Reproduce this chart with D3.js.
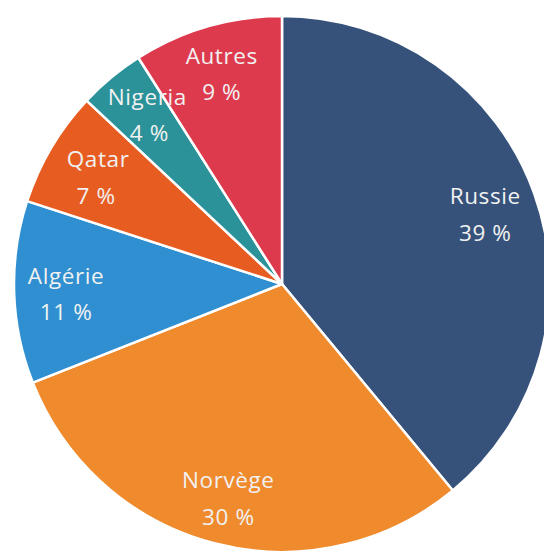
<!DOCTYPE html>
<html><head><meta charset="utf-8">
<script src="https://cdn.jsdelivr.net/npm/d3@7"></script>
<style>html,body{margin:0;padding:0;background:#fff;}svg{display:block;}</style>
</head><body>
<svg id="chart" width="544" height="551"></svg>
<script>
const countries = ["Russie", "Norvège", "Algérie", "Qatar", "Nigeria", "Autres"];
const shares = [39, 30, 11, 7, 4, 9];
const colors = ["#37527a", "#ef8a2d", "#2f8fd0", "#e75d21", "#2b9299", "#de3a4e"];
const pctLabels = ["39 %", "30 %", "11 %", "7 %", "4 %", "9 %"];

// small label nudges (layout only): [dx name, dx pct, dy]
const nudges = {"Nigeria": [3, 5, -6], "Autres": [0, 0, -6], "Norvège": [0, 0, 2], "Qatar": [2, 0, 0]};

const svg = d3.select("#chart");
const cx = 282, cy = 284, R = 268, labelR = 216;
const g = svg.append("g").attr("transform", `translate(${cx},${cy})`);

const pie = d3.pie().sort(null).value(d => d.v);
const data = countries.map((c, i) => ({c, v: shares[i], col: colors[i], p: pctLabels[i]}));
const arcs = pie(data);
const arc = d3.arc().innerRadius(0).outerRadius(R);
const labelArc = d3.arc().innerRadius(labelR).outerRadius(labelR);

g.selectAll("path").data(arcs).join("path")
  .attr("d", arc)
  .attr("fill", d => d.data.col)
  .attr("stroke", "#fff")
  .attr("stroke-width", 2.5)
  .attr("stroke-linejoin", "round");

const nud = d => nudges[d.data.c] || [0, 0, 0];
const lbl = g.selectAll("text.lbl").data(arcs).join("text")
  .attr("class", "lbl")
  .attr("transform", d => { const [x, y] = labelArc.centroid(d); return `translate(${x},${y + nud(d)[2]})`; })
  .attr("text-anchor", "middle")
  .attr("font-family", "'Open Sans', sans-serif")
  .attr("font-size", 22.5)
  .attr("letter-spacing", 0.6)
  .attr("fill", "#f1f1f1");
lbl.append("tspan").attr("x", d => nud(d)[0]).attr("dy", "-0.3em").text(d => d.data.c);
lbl.append("tspan").attr("x", d => nud(d)[1]).attr("dy", "1.62em").text(d => d.data.p);
</script>
</body></html>
